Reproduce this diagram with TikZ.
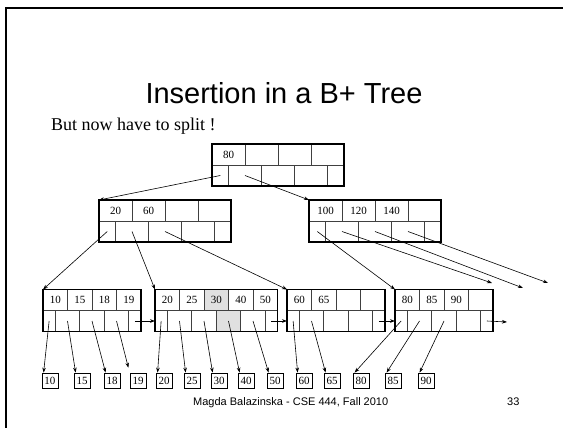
\documentclass[tikz,border=0pt]{standalone}
\usepackage{fontspec}
\setmainfont{Liberation Serif}
\newfontfamily\slidefont{Liberation Sans}
\usetikzlibrary{arrows.meta}

\def\rowh{21}
\tikzset{
  boxline/.style={line width=1.5pt},
  cellline/.style={line width=0.8pt,black!75},
  keytext/.style={inner sep=0pt,font=\fontsize{11}{13}\selectfont},
  databox/.style={draw,line width=0.8pt,minimum width=16pt,minimum height=15pt,inner sep=0pt,font=\fontsize{11}{13}\selectfont},
  ptr/.style={line width=0.6pt,-{Stealth[length=5pt,width=3.6pt]}},
  hlcell/.style={fill=black!12}
}

% #1 name, #2 left, #3 top, #4 cell width, #5 key cells, #6 keys
\newcommand{\bptnode}[6]{%
  \coordinate (#1nw) at (#2,#3);
  \coordinate (#1w) at (#2,#3+1.5*\rowh);
  \pgfmathtruncatemacro{\nkm}{#5-1}
  \foreach \i in {1,...,\nkm}
    \draw[cellline] (#2+\i*#4,#3) -- (#2+\i*#4,#3+\rowh);
  \foreach \i in {1,...,#5}
    \draw[cellline] (#2+\i*#4-#4/2,#3+\rowh) -- (#2+\i*#4-#4/2,#3+2*\rowh);
  \draw[cellline] (#2,#3+\rowh) -- (#2+#5*#4,#3+\rowh);
  \draw[boxline] (#2,#3) rectangle (#2+#5*#4,#3+2*\rowh);
  \foreach \k [count=\i] in {#6}
    \node[keytext] (#1k\i) at (#2+\i*#4-#4/2,#3+\rowh/2) {\k};
  \pgfmathtruncatemacro{\npt}{#5+1}
  \foreach \i in {1,...,\npt}
    \coordinate (#1p\i) at ({#2+max(#4/4,min((\i-1)*#4,#5*#4-#4/4))},#3+1.5*\rowh);
}

\begin{document}
\begin{tikzpicture}[x=1pt,y=-1pt]
    \useasboundingbox (0,0) rectangle (563,428);
    \draw[line width=2.5pt] (6,428) -- (6,8) -- (563,8);

    \node[anchor=base,inner sep=0pt,font=\slidefont\fontsize{29}{34}\selectfont] (title) at (284,104) {Insertion in a B+ Tree};
    \node[anchor=base west,inner sep=0pt,font=\fontsize{18}{20}\selectfont] (sub) at (51,131) {But now have to split !};

    \fill[hlcell] (155+2*24.5,289.5) rectangle ++(24.5,\rowh);
    \fill[hlcell] (155+2.5*24.5,289.5+\rowh) rectangle ++(24.5,\rowh);

    \bptnode{root}{212}{144}{33}{4}{80}
    \bptnode{intA}{99}{200}{33}{4}{20,60}
    \bptnode{intB}{309}{200}{33}{4}{100,120,140}
    \bptnode{leafA}{43}{289.5}{24.5}{4}{10,15,18,19}
    \bptnode{leafB}{155}{289.5}{24.5}{5}{20,25,30,40,50}
    \bptnode{leafC}{287}{289.5}{24.5}{4}{60,65}
    \bptnode{leafD}{395}{289.5}{24.5}{4}{80,85,90}

    \foreach \v/\x in {10/50,15/82,18/112,19/138,20/164,25/192,30/219,40/246,50/275,60/304,65/332,80/361,85/393,90/426}
      \node[databox] (d\v) at (\x,380.5) {\v};

    \coordinate (endD) at (507,322);
    \coordinate (freeA) at (492,283);
    \coordinate (freeB) at (523,288);
    \coordinate (freeC) at (548,283);

    \draw[ptr] (rootp1) -- (intAnw);
    \draw[ptr] (rootp2) -- (intBnw);
    \draw[ptr] (intAp1) -- (leafAnw);
    \draw[ptr] (intAp2) -- (leafBnw);
    \draw[ptr] (intAp3) -- (leafCnw);
    \draw[ptr] (intBp1) -- (leafDnw);
    \draw[ptr] (intBp2) -- (freeA);
    \draw[ptr] (intBp3) -- (freeB);
    \draw[ptr] (intBp4) -- (freeC);

    \draw[ptr] (leafAp5) -- (leafBw);
    \draw[ptr] (leafBp6) -- (leafCw);
    \draw[ptr] (leafCp5) -- (leafDw);
    \draw[ptr] (leafDp5) -- (endD);

    \foreach \a/\b in {leafAp1/d10,leafAp2/d15,leafAp3/d18,leafBp1/d20,leafBp2/d25,leafBp3/d30,leafBp4/d40,leafBp5/d50,leafCp1/d60,leafCp2/d65,leafDp1/d80,leafDp2/d85,leafDp3/d90}
      \draw[ptr] (\a) -- ([xshift=2pt]\b.north west);
    \draw[ptr,shorten >=5pt] (leafAp4) -- (d19.north west);

    \node[anchor=base west,inner sep=0pt,font=\slidefont\fontsize{11}{13}\selectfont] (foot) at (193,405) {Magda Balazinska - CSE 444, Fall 2010};
    \node[anchor=base west,inner sep=0pt,font=\slidefont\fontsize{11}{13}\selectfont] (page) at (507,405) {33};
\end{tikzpicture}
\end{document}
